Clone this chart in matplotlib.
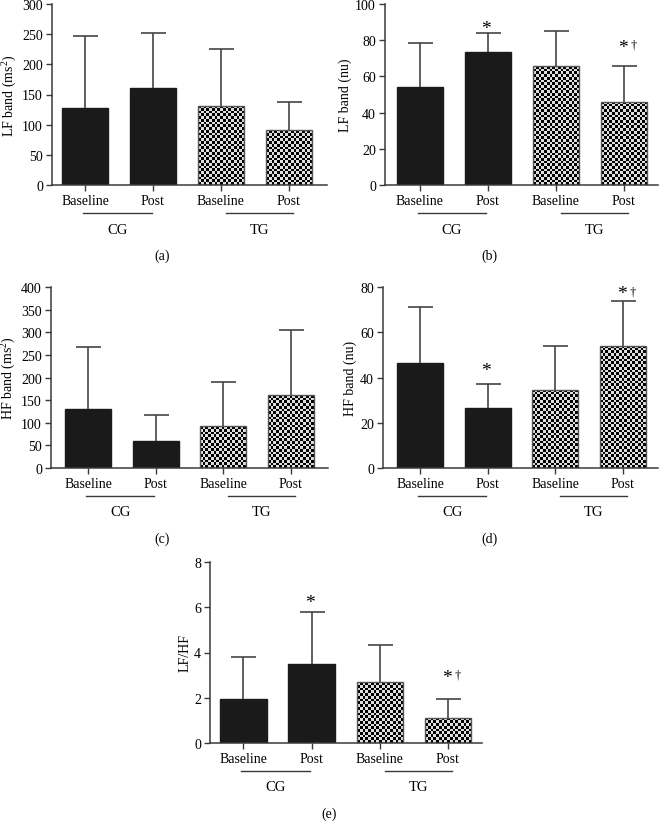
import numpy as np
import matplotlib
matplotlib.use("Agg")
import matplotlib.pyplot as plt
from matplotlib.transforms import blended_transform_factory, offset_copy

plt.rcParams['font.family'] = ['Liberation Serif', 'DejaVu Serif']
plt.rcParams['mathtext.fontset'] = 'custom'
plt.rcParams['mathtext.rm'] = 'Liberation Serif'
plt.rcParams['mathtext.it'] = 'Liberation Serif:italic'
plt.rcParams['mathtext.default'] = 'regular'

# ---------------- data ----------------
tick_labels = ["Baseline", "Post", "Baseline", "Post"]
groups = ["CG", "TG"]

lf_ms2_mean = [128, 160, 131, 91]
lf_ms2_upper = [247, 252, 226, 137]

lf_nu_mean = [54, 73.5, 65.5, 46]
lf_nu_upper = [78.5, 84, 85, 66]

hf_ms2_mean = [131, 59, 92, 161]
hf_ms2_upper = [268, 118, 190, 306]

hf_nu_mean = [46.5, 26.5, 34.5, 54]
hf_nu_upper = [71, 37, 54, 74]

lfhf_mean = [1.95, 3.5, 2.68, 1.12]
lfhf_upper = [3.78, 5.78, 4.33, 1.96]

# significance marks: (bar index, y position, text)
sig_b = [(1, 89.5, "*"), (3, 78.8, "*†")]
sig_d = [(1, 45.3, "*"), (3, 79.3, "*†")]
sig_e = [(1, 6.45, "*"), (3, 3.13, "*†")]

W, H = 660, 829
fig = plt.figure(figsize=(W / 100, H / 100), dpi=100)

AX_COL = "#3a3a3a"
FS = 10


def make_ax(left, right, y0, ytop):
    return fig.add_axes([left / W, (H - y0) / H, (right - left) / W, (y0 - ytop) / H])


def panel(ax, means, uppers, ylim, yticks, ylabel, xlim, letter, sigs=(),
          letter_x=None):
    x = np.arange(len(means))
    ax.set_xlim(*xlim)
    ax.set_ylim(*ylim)
    colors = ["#1a1a1a", "#1a1a1a", "none", "none"]
    edges = ["#1a1a1a", "#1a1a1a", "#555555", "#555555"]
    bars = ax.bar(x, means, width=0.68, color=colors, edgecolor=edges,
                  linewidth=1.0, zorder=2)
    # checkerboard texture for TG bars
    fig.canvas.draw()
    for i in (2, 3):
        b = bars[i]
        x0, y0 = b.get_x(), b.get_y()
        w, h = b.get_width(), b.get_height()
        p0 = ax.transData.transform((x0, y0))
        p1 = ax.transData.transform((x0 + w, y0 + h))
        cell = 2.7
        nc = max(1, int(round(abs(p1[0] - p0[0]) / cell)))
        nr = max(1, int(round(abs(p1[1] - p0[1]) / cell)))
        rr, cc = np.mgrid[0:nr, 0:nc]
        img = ((rr + cc) % 2).astype(float)
        im = ax.imshow(img, extent=(x0, x0 + w, y0, y0 + h), cmap="gray",
                       vmin=0, vmax=1.15, interpolation="nearest",
                       aspect="auto", zorder=1.5, origin="lower")
        im.set_clip_path(b)
    ax.set_xlim(*xlim)
    ax.set_ylim(*ylim)
    ax.set_aspect("auto")

    means_a = np.array(means, dtype=float)
    upp = np.array(uppers, dtype=float)
    _, caps, _ = ax.errorbar(x, means_a,
                             yerr=[np.zeros_like(means_a), upp - means_a],
                             fmt="none", ecolor="#444444", elinewidth=1.2,
                             capsize=9, capthick=1.2, zorder=3)
    # hide the lower caps (only upper error shown)
    if len(caps) == 2:
        caps[0].set_visible(False)

    for s in ("top", "right"):
        ax.spines[s].set_visible(False)
    for s in ("left", "bottom"):
        ax.spines[s].set_color(AX_COL)
        ax.spines[s].set_linewidth(1.1)
    ax.set_yticks(yticks)
    ax.set_xticks(x)
    ax.set_xticklabels(tick_labels)
    ax.tick_params(axis="both", colors=AX_COL, labelcolor="black",
                   labelsize=FS, length=4, width=1.0, direction="out")
    ax.tick_params(axis="x", pad=2.5)
    ax.tick_params(axis="y", pad=2.5)
    ax.set_ylabel(ylabel, fontsize=FS, labelpad=2)

    tr = blended_transform_factory(ax.transData, ax.transAxes)
    ax_h_px = ax.get_window_extent().height
    y_line = -28 / ax_h_px
    y_grp = -44 / ax_h_px
    y_let = -70 / ax_h_px
    for (a, bnd), g in zip([(-0.03, 0.98), (2.07, 3.06)], groups):
        ax.plot([a, bnd], [y_line, y_line], transform=tr, color=AX_COL,
                lw=1.0, clip_on=False)
        ax.text((a + bnd) / 2, y_grp, g, transform=tr, ha="center",
                va="center", fontsize=10.5)
    lx = 1.1 if letter_x is None else letter_x
    ax.text(lx, y_let, letter, transform=tr, ha="center", va="center",
            fontsize=10)

    for idx, yv, txt in sigs:
        t_star = offset_copy(ax.transData, fig=fig, x=-1, y=-7, units="points")
        ax.text(idx, yv, "*", transform=t_star, ha="center",
                va="baseline", fontsize=14, zorder=4)
        if "†" in txt:
            t_dag = offset_copy(ax.transData, fig=fig, x=5, y=-4,
                                units="points")
            ax.text(idx, yv, "†", transform=t_dag, ha="left",
                    va="baseline", fontsize=9, zorder=4)


ax_a = make_ax(52, 327, 186, 5)
panel(ax_a, lf_ms2_mean, lf_ms2_upper, (0, 300), np.arange(0, 301, 50),
      "LF band (ms$^2$)", (-0.485, 3.56), "(a)", letter_x=1.13)

ax_b = make_ax(385, 658, 186, 5)
panel(ax_b, lf_nu_mean, lf_nu_upper, (0, 100), np.arange(0, 101, 20),
      "LF band (nu)", (-0.51, 3.5), "(b)", sigs=sig_b, letter_x=1.03)

ax_c = make_ax(51, 328, 469, 288)
panel(ax_c, hf_ms2_mean, hf_ms2_upper, (0, 400), np.arange(0, 401, 50),
      "HF band (ms$^2$)", (-0.55, 3.55), "(c)", letter_x=1.1)

ax_d = make_ax(383, 658, 469, 288)
panel(ax_d, hf_nu_mean, hf_nu_upper, (0, 80), np.arange(0, 81, 20),
      "HF band (nu)", (-0.55, 3.52), "(d)", sigs=sig_d, letter_x=1.03)

ax_e = make_ax(210, 482, 744, 563)
panel(ax_e, lfhf_mean, lfhf_upper, (0, 8), np.arange(0, 9, 2),
      "LF/HF", (-0.49, 3.5), "(e)", sigs=sig_e, letter_x=1.25)

fig.savefig("out.png", dpi=100)
